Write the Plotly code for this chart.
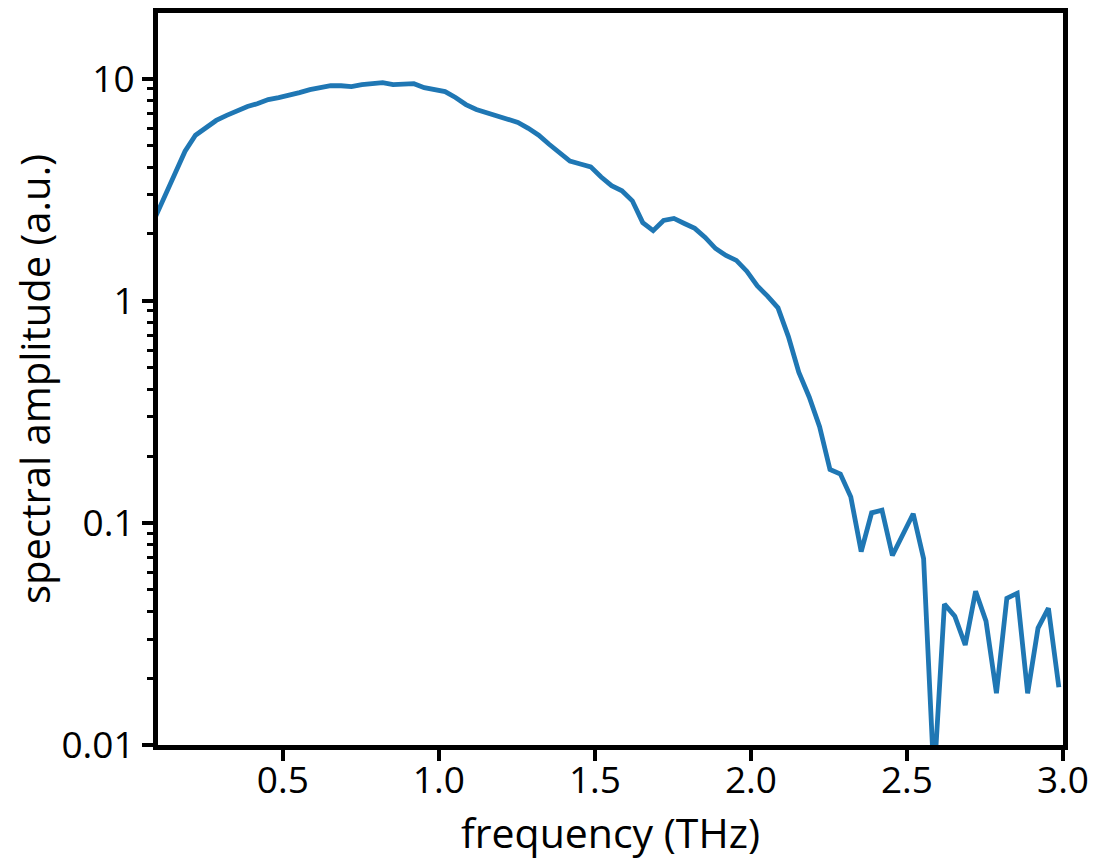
import plotly.graph_objects as go

freq_thz = [
    0.0867, 0.1200, 0.1533, 0.1867, 0.2200, 0.2533, 0.2867, 0.3200, 0.3533, 0.3867,
    0.4200, 0.4533, 0.4867, 0.5200, 0.5533, 0.5867, 0.6200, 0.6533, 0.6867, 0.7200,
    0.7533, 0.7867, 0.8200, 0.8533, 0.8867, 0.9200, 0.9533, 0.9867, 1.0200, 1.0533,
    1.0867, 1.1200, 1.1533, 1.1867, 1.2200, 1.2533, 1.2867, 1.3200, 1.3533, 1.3867,
    1.4200, 1.4533, 1.4867, 1.5200, 1.5533, 1.5867, 1.6200, 1.6533, 1.6867, 1.7200,
    1.7533, 1.7867, 1.8200, 1.8533, 1.8867, 1.9200, 1.9533, 1.9867, 2.0200, 2.0533,
    2.0867, 2.1200, 2.1533, 2.1867, 2.2200, 2.2533, 2.2867, 2.3200, 2.3533, 2.3867,
    2.4200, 2.4533, 2.4867, 2.5200, 2.5533, 2.5867, 2.6200, 2.6533, 2.6867, 2.7200,
    2.7533, 2.7867, 2.8200, 2.8533, 2.8867, 2.9200, 2.9533, 2.9867,
]

amplitude = [
    2.30, 2.90, 3.69, 4.72, 5.57, 6.04, 6.49, 6.84, 7.20, 7.50,
    7.73, 8.06, 8.23, 8.40, 8.66, 8.93, 9.12, 9.30, 9.30, 9.21,
    9.40, 9.50, 9.60, 9.40, 9.40, 9.50, 9.12, 8.89, 8.75, 8.23,
    7.65, 7.27, 7.05, 6.77, 6.56, 6.36, 5.98, 5.57, 5.07, 4.63,
    4.26, 4.13, 4.01, 3.61, 3.30, 3.13, 2.82, 2.25, 2.07, 2.30,
    2.35, 2.23, 2.12, 1.93, 1.72, 1.60, 1.52, 1.36, 1.17, 1.05,
    0.93, 0.69, 0.477, 0.369, 0.271, 0.174, 0.166, 0.131, 0.0743, 0.111,
    0.114, 0.0713, 0.0883, 0.110, 0.069, 0.007, 0.0431, 0.0380, 0.0282, 0.0492,
    0.0361, 0.0171, 0.0458, 0.0482, 0.0171, 0.0336, 0.0413, 0.0182,
]

x_ticks = [0.5, 1.0, 1.5, 2.0, 2.5, 3.0]
x_tick_labels = ["0.5", "1.0", "1.5", "2.0", "2.5", "3.0"]
y_ticks = [0.01, 0.1, 1, 10]
y_tick_labels = ["0.01", "0.1", "1", "10"]

FONT = "Open Sans"

fig = go.Figure()
fig.add_trace(go.Scatter(
    x=freq_thz, y=amplitude, mode="lines",
    line=dict(color="#1f77b4", width=4.8),
    showlegend=False,
))

fig.update_layout(
    width=1117, height=867,
    margin=dict(l=158, r=54, t=8, b=122),
    paper_bgcolor="white", plot_bgcolor="white",
    font=dict(family=FONT, color="black", size=37),
)

fig.update_xaxes(
    range=[0.1, 3.0],
    tickmode="array", tickvals=x_ticks, ticktext=x_tick_labels,
    ticks="outside", ticklen=11, tickwidth=4, tickcolor="black",
    ticklabelstandoff=-12,
    showline=True, linewidth=5, linecolor="black", mirror=True,
    showgrid=False, zeroline=False,
    tickfont=dict(family=FONT, size=37, color="black"),
    title=dict(text="frequency (THz)", font=dict(family=FONT, size=41, color="black"), standoff=0),
)

fig.update_yaxes(
    type="log", range=[-2, 1.296],
    tickmode="array", tickvals=y_ticks, ticktext=y_tick_labels,
    ticks="outside", ticklen=11, tickwidth=4, tickcolor="black",
    showline=True, linewidth=5, linecolor="black", mirror=True,
    showgrid=False, zeroline=False,
    minor=dict(ticks="outside", ticklen=6, tickwidth=3, tickcolor="black", dtick="D1", showgrid=False),
    tickfont=dict(family=FONT, size=37, color="black"),
    title=dict(text="spectral amplitude (a.u.)", font=dict(family=FONT, size=40, color="black"), standoff=0),
)

fig.write_html("out.html")
